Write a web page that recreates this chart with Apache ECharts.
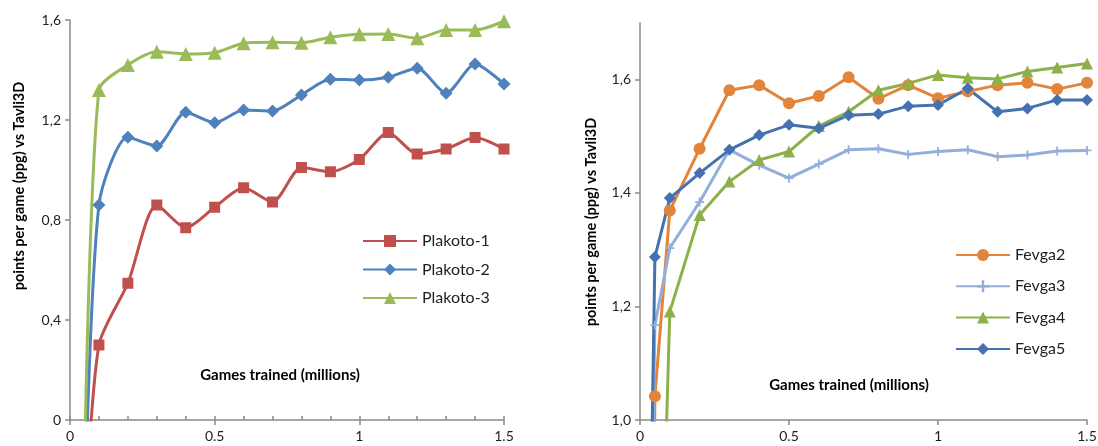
<!DOCTYPE html>
<html>
<head>
<meta charset="utf-8">
<script src="https://cdn.jsdelivr.net/npm/echarts@6/dist/echarts.min.js"></script>
<style>
  html, body { margin: 0; padding: 0; background: #fff; }
  #chart { width: 1098px; height: 446px; }
</style>
</head>
<body>
<div id="chart"></div>
<script>
// left panel (Plakoto), first x is a hidden start point below the axis
const plakotoX = [0.05, 0.1, 0.2, 0.3, 0.4, 0.5, 0.6, 0.7, 0.8, 0.9, 1.0, 1.1, 1.2, 1.3, 1.4, 1.5]
const plakoto1 = [-0.45, 0.30, 0.547, 0.86, 0.769, 0.851, 0.929, 0.872, 1.01, 0.993, 1.042, 1.15, 1.064, 1.084, 1.13, 1.084]
const plakoto2 = [-0.40, 0.86, 1.131, 1.096, 1.231, 1.189, 1.24, 1.236, 1.30, 1.363, 1.36, 1.371, 1.407, 1.307, 1.424, 1.344]
const plakoto3 = [-0.21, 1.32, 1.42, 1.473, 1.464, 1.469, 1.507, 1.511, 1.509, 1.531, 1.543, 1.544, 1.527, 1.56, 1.56, 1.595]

// right panel (Fevga)
const fevgaX = [0, 0.05, 0.1, 0.2, 0.3, 0.4, 0.5, 0.6, 0.7, 0.8, 0.9, 1.0, 1.1, 1.2, 1.3, 1.4, 1.5]
const fevga2 = [-2.0, 1.042, 1.369, 1.478, 1.581, 1.590, 1.558, 1.571, 1.604, 1.566, 1.590, 1.567, 1.579, 1.590, 1.594, 1.583, 1.594]
const fevga3 = [-0.5, 1.167, 1.303, 1.384, 1.476, 1.449, 1.426, 1.451, 1.476, 1.478, 1.468, 1.473, 1.476, 1.464, 1.467, 1.474, 1.475]
const fevga4 = [null, 0.28, 1.191, 1.361, 1.420, 1.458, 1.473, 1.518, 1.543, 1.581, 1.593, 1.608, 1.603, 1.601, 1.614, 1.621, 1.628]
const fevga5 = [-0.36, 1.287, 1.391, 1.435, 1.476, 1.502, 1.520, 1.514, 1.537, 1.539, 1.553, 1.555, 1.584, 1.543, 1.549, 1.564, 1.564]

const xTicks = [0, 0.5, 1, 1.5]
const leftYTicks = [0, 0.4, 0.8, 1.2, 1.6]
const rightYTicks = [1.0, 1.2, 1.4, 1.6]

const FONT = 'Lato, "Open Sans", sans-serif'
const AXIS_COLOR = '#8a8a8a'
const TEXT_COLOR = '#1e1e1e'

const pairs = (xs, ys) => xs.map((x, i) => [x, ys[i]])
const comma = v => (v === 0 ? '0' : v.toFixed(1).replace('.', ','))
const crossPath = 'path://M3.2,0h1.6v8h-1.6zM0,3.2h8v1.6h-8z'

function lineSeries(name, data, color, symbol, size, grid, smooth) {
  return {
    name: name,
    type: 'line',
    xAxisIndex: grid === 0 ? 0 : 2,
    yAxisIndex: grid,
    data: data,
    smooth: smooth,
    clip: true,
    symbol: symbol,
    symbolSize: size,
    showAllSymbol: true,
    lineStyle: { color: color, width: 3 },
    itemStyle: { color: color, borderWidth: 0 },
    emphasis: { disabled: true }
  }
}

const valueX = (gridIndex) => ({
  type: 'value', gridIndex: gridIndex, min: 0, max: 1.5, interval: 0.5,
  axisLine: { show: true, onZero: false, lineStyle: { color: AXIS_COLOR, width: 1.5 } },
  axisTick: { show: true, length: 5, customValues: xTicks, lineStyle: { color: AXIS_COLOR, width: 1.5 } },
  axisLabel: { customValues: xTicks, color: TEXT_COLOR, fontSize: 14, fontFamily: FONT, margin: 9, formatter: v => String(v) },
  splitLine: { show: false }
})

const titleStyle = (text, size) => ({
  text: text, fontSize: size, fontWeight: 'bold', fontFamily: FONT, fill: '#000', align: 'center', verticalAlign: 'middle'
})

const chart = echarts.init(document.getElementById('chart'), null, { renderer: 'canvas' })
chart.setOption({
  animation: false,
  backgroundColor: '#ffffff',
  grid: [
    { left: 70, top: 20, width: 434, height: 400, outerBoundsMode: 'none' },
    { left: 640, top: 22.7, width: 447, height: 397.3, outerBoundsMode: 'none' }
  ],
  xAxis: [
    valueX(0),
    {
      // inner minor ticks of the left panel
      type: 'value', gridIndex: 0, min: 0, max: 1.5, interval: 0.1, position: 'bottom',
      axisLine: { show: false },
      axisTick: { show: true, inside: true, length: 4, lineStyle: { color: AXIS_COLOR, width: 1.5 } },
      axisLabel: { show: false },
      splitLine: { show: false }
    },
    valueX(1)
  ],
  yAxis: [
    {
      type: 'value', gridIndex: 0, min: 0, max: 1.6, interval: 0.4,
      axisLine: { show: true, lineStyle: { color: AXIS_COLOR, width: 1.5 } },
      axisTick: { show: true, length: 5, customValues: leftYTicks, lineStyle: { color: AXIS_COLOR, width: 1.5 } },
      axisLabel: { customValues: leftYTicks, color: TEXT_COLOR, fontSize: 14, fontFamily: FONT, margin: 9, formatter: comma },
      splitLine: { show: false }
    },
    {
      type: 'value', gridIndex: 1, min: 1.0, max: 1.7, interval: 0.2,
      axisLine: { show: true, lineStyle: { color: AXIS_COLOR, width: 1.5 } },
      axisTick: { show: true, length: 5, customValues: rightYTicks, lineStyle: { color: AXIS_COLOR, width: 1.5 } },
      axisLabel: {
        customValues: rightYTicks, color: TEXT_COLOR, fontSize: 14, fontFamily: FONT, margin: 9,
        formatter: v => (v > 1.65 ? '' : v.toFixed(1).replace('.', ','))
      },
      splitLine: { show: false }
    }
  ],
  legend: [
    {
      data: ['Plakoto-1', 'Plakoto-2', 'Plakoto-3'],
      orient: 'vertical', left: 357, top: 228,
      itemWidth: 54, itemHeight: 15, itemGap: 12.5,
      textStyle: { color: TEXT_COLOR, fontSize: 16, fontFamily: FONT },
      selectedMode: false
    },
    {
      data: ['Fevga2', 'Fevga3', 'Fevga4', 'Fevga5'],
      orient: 'vertical', left: 950, top: 242,
      itemWidth: 54, itemHeight: 15, itemGap: 15.3,
      textStyle: { color: TEXT_COLOR, fontSize: 16, fontFamily: FONT },
      selectedMode: false
    }
  ],
  graphic: [
    { type: 'text', x: 19, y: 186, rotation: Math.PI / 2, style: titleStyle('points per game (ppg) vs Tavli3D', 14.5) },
    { type: 'text', x: 280, y: 375, style: titleStyle('Games trained (millions)', 15) },
    { type: 'text', x: 591, y: 222, rotation: Math.PI / 2, style: titleStyle('points per game (ppg) vs Tavli3D', 14.5) },
    { type: 'text', x: 849, y: 385, style: titleStyle('Games trained (millions)', 15) }
  ],
  series: [
    lineSeries('Plakoto-1', pairs(plakotoX, plakoto1), '#C0504D', 'rect', 11, 0, 0.25),
    lineSeries('Plakoto-2', pairs(plakotoX, plakoto2), '#4F81BD', 'diamond', 13, 0, 0.25),
    lineSeries('Plakoto-3', pairs(plakotoX, plakoto3), '#9BBB59', 'triangle', 14, 0, 0.25),
    lineSeries('Fevga2', pairs(fevgaX, fevga2), '#E2843A', 'circle', 12, 1, false),
    lineSeries('Fevga3', pairs(fevgaX, fevga3), '#94AEDB', crossPath, 9, 1, false),
    lineSeries('Fevga4', pairs(fevgaX, fevga4), '#8DB04A', 'triangle', 12, 1, false),
    lineSeries('Fevga5', pairs(fevgaX, fevga5), '#4472B0', 'diamond', 12, 1, false)
  ]
})
</script>
</body>
</html>
